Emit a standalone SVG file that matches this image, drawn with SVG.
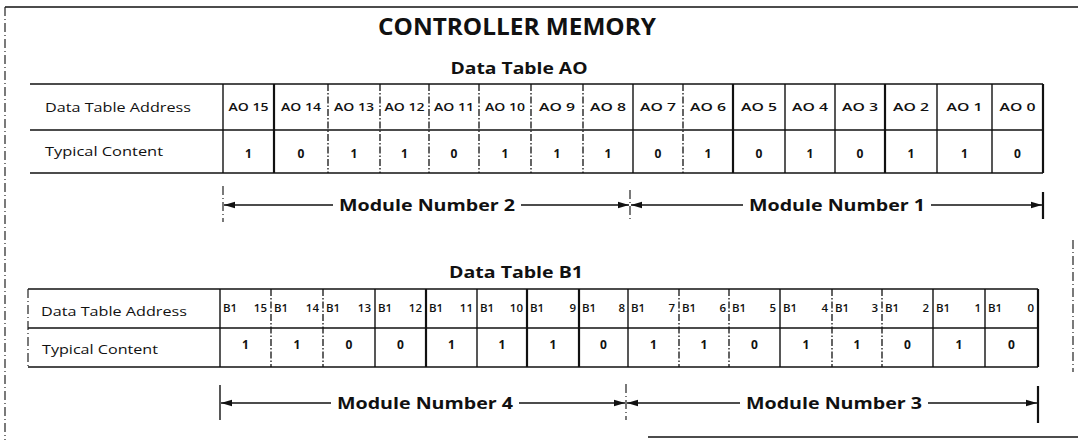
<svg xmlns="http://www.w3.org/2000/svg" width="1078" height="440" viewBox="0 0 1078 440">
<style>
  text { font-family: "Open Sans", "Liberation Sans", sans-serif; fill: #111; }
  .title { font-size: 24px; font-weight: 700; text-anchor: middle; }
  .sub { font-size: 16px; font-weight: 700; text-anchor: middle; }
  .lab { font-size: 13px; }
  .hd { font-size: 11.5px; font-weight: 600; text-anchor: middle; }
  .hb { font-size: 11.5px; font-weight: 600; }
  .val { font-size: 12px; font-weight: 700; text-anchor: middle; }
  .mod { font-size: 16px; font-weight: 700; text-anchor: middle; }
  .s { stroke: #111; stroke-width: 1.4; fill: none; }
  .t { stroke: #111; stroke-width: 2.2; fill: none; }
  .d { stroke: #111; stroke-width: 1.3; fill: none; stroke-dasharray: 7 2 1.5 2; }
  .f { stroke: #222; stroke-width: 1.2; fill: none; stroke-dasharray: 9 3 1 3; }
  .ar { stroke: #111; stroke-width: 1.3; fill: none; marker-end: url(#ah); }
</style>
<defs>
  <marker id="ah" markerWidth="12" markerHeight="8" refX="11" refY="4" orient="auto" markerUnits="userSpaceOnUse">
    <path d="M0,0.8 L11,4 L0,7.2 Z" fill="#111"/>
  </marker>
</defs>

<g id="frame">
  <line class="s" x1="5" y1="7" x2="1078" y2="7"/>
  <line class="f" x1="5" y1="7" x2="5" y2="440"/>
  <line class="s" x1="648" y1="437" x2="1078" y2="437"/>
  <line class="f" x1="1073" y1="240" x2="1073" y2="372"/>
</g>

<g id="title">
  <text class="title" x="517" y="35" textLength="278" lengthAdjust="spacingAndGlyphs">CONTROLLER MEMORY</text>
</g>

<!-- Data Table AO -->
<g id="tableA">
  <text class="sub" x="519" y="74" textLength="137" lengthAdjust="spacingAndGlyphs">Data Table AO</text>
  <line class="s" x1="30" y1="84" x2="1043" y2="84"/>
  <line class="s" x1="30" y1="130" x2="1043" y2="130"/>
  <line class="s" x1="30" y1="173" x2="1043" y2="173"/>
  <line class="s" x1="223" y1="84" x2="223" y2="173"/>
  <line class="t" x1="274" y1="84" x2="274" y2="173"/>
  <line class="d" x1="328" y1="84" x2="328" y2="173"/>
  <line class="d" x1="380" y1="84" x2="380" y2="173"/>
  <line class="d" x1="429" y1="84" x2="429" y2="173"/>
  <line class="d" x1="479" y1="84" x2="479" y2="173"/>
  <line class="d" x1="531" y1="84" x2="531" y2="173"/>
  <line class="d" x1="583" y1="84" x2="583" y2="173"/>
  <line class="s" x1="633" y1="84" x2="633" y2="173"/>
  <line class="d" x1="683" y1="84" x2="683" y2="173"/>
  <line class="t" x1="733" y1="84" x2="733" y2="173"/>
  <line class="s" x1="785" y1="84" x2="785" y2="173"/>
  <line class="s" x1="835" y1="84" x2="835" y2="173"/>
  <line class="t" x1="885" y1="84" x2="885" y2="173"/>
  <line class="s" x1="937" y1="84" x2="937" y2="173"/>
  <line class="s" x1="992" y1="84" x2="992" y2="173"/>
  <line class="t" x1="1043" y1="84" x2="1043" y2="173"/>

  <text class="lab" x="45" y="112" textLength="146" lengthAdjust="spacingAndGlyphs">Data Table Address</text>
  <text class="lab" x="45" y="156" textLength="118" lengthAdjust="spacingAndGlyphs">Typical Content</text>

  <g class="hdrs">
    <text class="hd" x="248.5" y="111" textLength="40" lengthAdjust="spacingAndGlyphs">AO 15</text>
    <text class="hd" x="301" y="111" textLength="40" lengthAdjust="spacingAndGlyphs">AO 14</text>
    <text class="hd" x="354" y="111" textLength="40" lengthAdjust="spacingAndGlyphs">AO 13</text>
    <text class="hd" x="404.5" y="111" textLength="40" lengthAdjust="spacingAndGlyphs">AO 12</text>
    <text class="hd" x="454" y="111" textLength="40" lengthAdjust="spacingAndGlyphs">AO 11</text>
    <text class="hd" x="505" y="111" textLength="40" lengthAdjust="spacingAndGlyphs">AO 10</text>
    <text class="hd" x="557" y="111" textLength="36" lengthAdjust="spacingAndGlyphs">AO 9</text>
    <text class="hd" x="608" y="111" textLength="36" lengthAdjust="spacingAndGlyphs">AO 8</text>
    <text class="hd" x="658" y="111" textLength="36" lengthAdjust="spacingAndGlyphs">AO 7</text>
    <text class="hd" x="708" y="111" textLength="36" lengthAdjust="spacingAndGlyphs">AO 6</text>
    <text class="hd" x="759" y="111" textLength="36" lengthAdjust="spacingAndGlyphs">AO 5</text>
    <text class="hd" x="810" y="111" textLength="36" lengthAdjust="spacingAndGlyphs">AO 4</text>
    <text class="hd" x="860" y="111" textLength="36" lengthAdjust="spacingAndGlyphs">AO 3</text>
    <text class="hd" x="911" y="111" textLength="36" lengthAdjust="spacingAndGlyphs">AO 2</text>
    <text class="hd" x="964.5" y="111" textLength="36" lengthAdjust="spacingAndGlyphs">AO 1</text>
    <text class="hd" x="1017.5" y="111" textLength="36" lengthAdjust="spacingAndGlyphs">AO 0</text>
  </g>
  <g class="vals">
    <text class="val" x="248.5" y="158">1</text>
    <text class="val" x="301" y="158">0</text>
    <text class="val" x="354" y="158">1</text>
    <text class="val" x="404.5" y="158">1</text>
    <text class="val" x="454" y="158">0</text>
    <text class="val" x="505" y="158">1</text>
    <text class="val" x="557" y="158">1</text>
    <text class="val" x="608" y="158">1</text>
    <text class="val" x="658" y="158">0</text>
    <text class="val" x="708" y="158">1</text>
    <text class="val" x="759" y="158">0</text>
    <text class="val" x="810" y="158">1</text>
    <text class="val" x="860" y="158">0</text>
    <text class="val" x="911" y="158">1</text>
    <text class="val" x="964.5" y="158">1</text>
    <text class="val" x="1017.5" y="158">0</text>
  </g>
</g>

<!-- Data Table B1 -->
<g id="tableB">
  <text class="sub" x="516" y="278" textLength="134" lengthAdjust="spacingAndGlyphs">Data Table B1</text>
  <line class="s" x1="28" y1="289" x2="1038" y2="289"/>
  <line class="s" x1="28" y1="328" x2="1038" y2="328"/>
  <line class="s" x1="28" y1="367" x2="1038" y2="367"/>
  <line class="f" x1="28" y1="289" x2="28" y2="367"/>
  <line class="s" x1="220" y1="289" x2="220" y2="367"/>
  <line class="d" x1="271" y1="289" x2="271" y2="367"/>
  <line class="d" x1="323" y1="289" x2="323" y2="367"/>
  <line class="s" x1="375" y1="289" x2="375" y2="367"/>
  <line class="t" x1="426" y1="289" x2="426" y2="367"/>
  <line class="s" x1="477" y1="289" x2="477" y2="367"/>
  <line class="t" x1="527" y1="289" x2="527" y2="367"/>
  <line class="t" x1="579" y1="289" x2="579" y2="367"/>
  <line class="s" x1="628" y1="289" x2="628" y2="367"/>
  <line class="d" x1="679" y1="289" x2="679" y2="367"/>
  <line class="d" x1="729" y1="289" x2="729" y2="367"/>
  <line class="s" x1="780" y1="289" x2="780" y2="367"/>
  <line class="d" x1="832" y1="289" x2="832" y2="367"/>
  <line class="d" x1="882" y1="289" x2="882" y2="367"/>
  <line class="s" x1="933" y1="289" x2="933" y2="367"/>
  <line class="s" x1="985" y1="289" x2="985" y2="367"/>
  <line class="t" x1="1038" y1="289" x2="1038" y2="367"/>

  <text class="lab" x="41" y="316" textLength="146" lengthAdjust="spacingAndGlyphs">Data Table Address</text>
  <text class="lab" x="42" y="354" textLength="116" lengthAdjust="spacingAndGlyphs">Typical Content</text>

  <g class="hdrs">
    <text class="hb" y="312"><tspan x="223">B1</tspan><tspan x="267" text-anchor="end">15</tspan></text>
    <text class="hb" y="312"><tspan x="274">B1</tspan><tspan x="319" text-anchor="end">14</tspan></text>
    <text class="hb" y="312"><tspan x="326">B1</tspan><tspan x="371" text-anchor="end">13</tspan></text>
    <text class="hb" y="312"><tspan x="378">B1</tspan><tspan x="422" text-anchor="end">12</tspan></text>
    <text class="hb" y="312"><tspan x="429">B1</tspan><tspan x="473" text-anchor="end">11</tspan></text>
    <text class="hb" y="312"><tspan x="480">B1</tspan><tspan x="523" text-anchor="end">10</tspan></text>
    <text class="hb" y="312"><tspan x="530">B1</tspan><tspan x="576" text-anchor="end">9</tspan></text>
    <text class="hb" y="312"><tspan x="582">B1</tspan><tspan x="625" text-anchor="end">8</tspan></text>
    <text class="hb" y="312"><tspan x="631">B1</tspan><tspan x="675" text-anchor="end">7</tspan></text>
    <text class="hb" y="312"><tspan x="682">B1</tspan><tspan x="726" text-anchor="end">6</tspan></text>
    <text class="hb" y="312"><tspan x="732">B1</tspan><tspan x="776" text-anchor="end">5</tspan></text>
    <text class="hb" y="312"><tspan x="783">B1</tspan><tspan x="828" text-anchor="end">4</tspan></text>
    <text class="hb" y="312"><tspan x="835">B1</tspan><tspan x="878" text-anchor="end">3</tspan></text>
    <text class="hb" y="312"><tspan x="885">B1</tspan><tspan x="929" text-anchor="end">2</tspan></text>
    <text class="hb" y="312"><tspan x="936">B1</tspan><tspan x="981" text-anchor="end">1</tspan></text>
    <text class="hb" y="312"><tspan x="988">B1</tspan><tspan x="1034" text-anchor="end">0</tspan></text>
  </g>
  <g class="vals">
    <text class="val" x="245.5" y="349">1</text>
    <text class="val" x="297" y="349">1</text>
    <text class="val" x="349" y="349">0</text>
    <text class="val" x="400.5" y="349">0</text>
    <text class="val" x="451.5" y="349">1</text>
    <text class="val" x="502" y="349">1</text>
    <text class="val" x="553" y="349">1</text>
    <text class="val" x="603.5" y="349">0</text>
    <text class="val" x="653.5" y="349">1</text>
    <text class="val" x="704" y="349">1</text>
    <text class="val" x="754.5" y="349">0</text>
    <text class="val" x="806" y="349">1</text>
    <text class="val" x="857" y="349">1</text>
    <text class="val" x="907.5" y="349">0</text>
    <text class="val" x="959" y="349">1</text>
    <text class="val" x="1011.5" y="349">0</text>
  </g>
</g>

<!-- Module labels -->
<g id="module2">
  <text class="mod" x="427" y="211" textLength="176" lengthAdjust="spacingAndGlyphs">Module Number 2</text>
</g>
<g id="module1">
  <text class="mod" x="837" y="211" textLength="176" lengthAdjust="spacingAndGlyphs">Module Number 1</text>
</g>
<g id="module4">
  <text class="mod" x="425" y="409" textLength="176" lengthAdjust="spacingAndGlyphs">Module Number 4</text>
</g>
<g id="module3">
  <text class="mod" x="834" y="409" textLength="176" lengthAdjust="spacingAndGlyphs">Module Number 3</text>
</g>

<g id="connectors">
  <!-- Module 2 / 1 -->
  <line class="f" x1="223" y1="186" x2="223" y2="222"/>
  <line class="f" x1="630" y1="190" x2="630" y2="220"/>
  <line class="t" x1="1043" y1="192" x2="1043" y2="219"/>
  <line class="ar" x1="333" y1="205" x2="224" y2="205"/>
  <line class="ar" x1="521" y1="205" x2="629" y2="205"/>
  <line class="ar" x1="743" y1="205" x2="631" y2="205"/>
  <line class="ar" x1="931" y1="205" x2="1042" y2="205"/>
  <!-- Module 4 / 3 -->
  <line class="s" x1="220" y1="385" x2="220" y2="420"/>
  <line class="f" x1="626" y1="384" x2="626" y2="420"/>
  <line class="t" x1="1038" y1="386" x2="1038" y2="423"/>
  <line class="ar" x1="331" y1="403" x2="221" y2="403"/>
  <line class="ar" x1="519" y1="403" x2="625" y2="403"/>
  <line class="ar" x1="740" y1="403" x2="627" y2="403"/>
  <line class="ar" x1="928" y1="403" x2="1037" y2="403"/>
</g>
</svg>
